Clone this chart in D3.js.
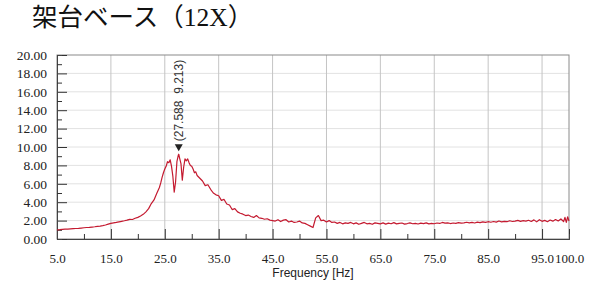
<!DOCTYPE html>
<html>
<head>
<meta charset="utf-8">
<script src="https://cdn.jsdelivr.net/npm/d3@7"></script>
<style>
  body { margin: 0; background: #fff; }
  svg { display: block; }
  .ax text { font-family: "Liberation Serif", "DejaVu Serif", serif; fill: #222; }
</style>
</head>
<body>
<div id="chart"></div>
<script>
var titleText = "架台ベース（12X）";
var axisTitle = "Frequency [Hz]";
var peakLabel = "(27.588  9.213)";
var peak = [27.588, 9.213];

var xTicks = [5, 15, 25, 35, 45, 55, 65, 75, 85, 95, 100];
var xMinor = [10, 20, 30, 40, 50, 60, 70, 80, 90];
var yTicks = [0, 2, 4, 6, 8, 10, 12, 14, 16, 18, 20];
var yMinor = [1, 3, 5, 7, 9, 11, 13, 15, 17, 19];

var freq = [
  5.0, 5.5, 6.0, 6.5, 7.0, 7.5, 8.0, 8.5, 9.0, 9.5,
  10.0, 10.5, 11.0, 11.5, 12.0, 12.5, 13.0, 13.5, 14.0, 14.5,
  15.0, 15.5, 16.0, 16.5, 17.0, 17.5, 18.0, 18.5, 19.0, 19.5,
  20.0, 20.5, 21.0, 21.5, 22.0, 22.5, 23.0, 23.5, 24.0, 24.25,
  24.5, 24.75, 25.0, 25.25, 25.5, 25.75, 26.0, 26.25, 26.5, 26.75,
  27.0, 27.25, 27.5, 27.588, 27.75, 28.0, 28.25, 28.5, 28.75, 29.0,
  29.25, 29.5, 29.75, 30.0, 30.25, 30.5, 30.75, 31.0, 31.5, 32.0,
  32.5, 33.0, 33.5, 34.0, 34.5, 35.0, 35.5, 36.0, 36.5, 37.0,
  37.5, 38.0, 38.5, 39.0, 39.5, 40.0, 40.5, 41.0, 41.5, 42.0,
  42.5, 43.0, 43.5, 44.0, 44.5, 45.0, 45.5, 46.0, 46.5, 47.0,
  47.5, 48.0, 48.5, 49.0, 49.5, 50.0, 50.5, 51.0, 51.5, 52.0,
  52.5, 53.0, 53.5, 54.0, 54.5, 55.0, 55.5, 56.0, 56.5, 57.0,
  57.5, 58.0, 58.5, 59.0, 59.5, 60.0, 60.5, 61.0, 61.5, 62.0,
  62.5, 63.0, 63.5, 64.0, 64.5, 65.0, 65.5, 66.0, 66.5, 67.0,
  67.5, 68.0, 68.5, 69.0, 69.5, 70.0, 70.5, 71.0, 71.5, 72.0,
  72.5, 73.0, 73.5, 74.0, 74.5, 75.0, 75.5, 76.0, 76.5, 77.0,
  77.5, 78.0, 78.5, 79.0, 79.5, 80.0, 80.5, 81.0, 81.5, 82.0,
  82.5, 83.0, 83.5, 84.0, 84.5, 85.0, 85.5, 86.0, 86.5, 87.0,
  87.5, 88.0, 88.5, 89.0, 89.5, 90.0, 90.5, 91.0, 91.5, 92.0,
  92.5, 93.0, 93.5, 94.0, 94.5, 95.0, 95.5, 96.0, 96.5, 97.0,
  97.5, 98.0, 98.5, 99.0, 99.25, 99.5, 99.75, 100.0
];

var amp = [
  1.00, 1.02, 1.05, 1.07, 1.08, 1.10, 1.12, 1.14, 1.16, 1.19,
  1.22, 1.25, 1.27, 1.30, 1.33, 1.37, 1.40, 1.45, 1.52, 1.62,
  1.70, 1.75, 1.80, 1.86, 1.92, 1.98, 2.05, 2.14, 2.12, 2.25,
  2.35, 2.50, 2.68, 2.95, 3.30, 3.85, 4.25, 4.95, 5.60, 6.10,
  6.70, 7.20, 7.60, 7.90, 8.40, 8.30, 8.60, 7.90, 6.80, 5.10,
  6.20, 8.40, 9.10, 9.213, 8.80, 8.20, 6.40, 7.80, 8.70, 8.50,
  8.70, 8.30, 8.00, 7.90, 7.60, 7.20, 7.30, 6.90, 6.60, 6.30,
  5.80, 5.90, 5.40, 5.00, 4.80, 4.70, 4.20, 4.30, 3.80, 3.70,
  3.20, 3.30, 2.95, 2.80, 2.70, 2.55, 2.60, 2.45, 2.35, 2.55,
  2.30, 2.25, 2.15, 2.20, 2.05, 2.00, 1.95, 2.10, 1.90, 2.05,
  2.10, 1.85, 1.95, 1.80, 1.85, 1.95, 1.75, 1.70, 1.55, 1.40,
  1.25, 2.30, 2.55, 2.00, 2.05, 1.85, 2.00, 1.80, 1.85, 1.70,
  1.80, 1.65, 1.75, 1.70, 1.80, 1.65, 1.75, 1.60, 1.70, 1.80,
  1.65, 1.70, 1.60, 1.75, 1.70, 1.65, 1.75, 1.62, 1.72, 1.66,
  1.78, 1.64, 1.70, 1.74, 1.62, 1.68, 1.76, 1.66, 1.70, 1.63,
  1.72, 1.68, 1.75, 1.64, 1.70, 1.66, 1.74, 1.69, 1.80, 1.72,
  1.76, 1.68, 1.74, 1.70, 1.78, 1.72, 1.75, 1.82, 1.76, 1.80,
  1.74, 1.84, 1.78, 1.86, 1.80, 1.88, 1.82, 1.90, 1.84, 1.96,
  1.86, 1.92, 1.88, 1.98, 1.90, 1.95, 2.02, 1.92, 2.00, 1.94,
  2.04, 1.90, 2.08, 1.86, 2.10, 1.92, 2.02, 1.88, 2.06, 1.94,
  2.12, 1.96, 2.18, 1.90, 2.35, 1.80, 2.40, 1.95
];

var W = 601, H = 289;
var margin = {top: 55, right: 32, bottom: 50, left: 57};
var width = W - margin.left - margin.right,
    height = H - margin.top - margin.bottom;

var svg = d3.select("#chart").append("svg")
    .attr("width", W)
    .attr("height", H);

svg.append("text")
    .attr("x", 32)
    .attr("y", 26)
    .attr("font-family", "'Liberation Serif', 'Noto Sans CJK JP', serif")
    .attr("font-size", 25.5)
    .attr("fill", "#111")
    .text(titleText);

var g = svg.append("g")
    .attr("transform", "translate(" + margin.left + "," + margin.top + ")");

var x = d3.scaleLinear().domain([5, 100]).range([0, width]);
var y = d3.scaleLinear().domain([0, 20]).range([height, 0]);

// grid
g.append("g").selectAll("line")
    .data(yTicks.slice(1, -1))
    .enter().append("line")
    .attr("x1", 0).attr("x2", width)
    .attr("y1", function (d) { return y(d); })
    .attr("y2", function (d) { return y(d); })
    .attr("stroke", "#e2e2e2");

g.append("g").selectAll("line")
    .data(xTicks.slice(1, -1))
    .enter().append("line")
    .attr("x1", function (d) { return x(d); })
    .attr("x2", function (d) { return x(d); })
    .attr("y1", 0).attr("y2", height)
    .attr("stroke", "#c4c4c4");

// frame
g.append("rect")
    .attr("width", width)
    .attr("height", height)
    .attr("fill", "none")
    .attr("stroke", "#8a8a8a");

// axes
g.append("g")
    .attr("class", "ax")
    .attr("transform", "translate(0," + height + ")")
    .call(d3.axisBottom(x).tickValues(xTicks).tickSize(-10).tickPadding(15)
        .tickFormat(d3.format(".1f")))
    .attr("font-family", "'Liberation Serif', serif")
    .attr("font-size", 13);

g.append("g")
    .attr("transform", "translate(0," + height + ")")
    .call(d3.axisBottom(x).tickValues(xMinor).tickSize(-5).tickFormat(""));

g.append("g")
    .attr("class", "ax")
    .call(d3.axisLeft(y).tickValues(yTicks).tickSize(-10).tickPadding(10)
        .tickFormat(d3.format(".2f")))
    .attr("font-family", "'Liberation Serif', serif")
    .attr("font-size", 13.5);

g.append("g")
    .call(d3.axisLeft(y).tickValues(yMinor).tickSize(-5).tickFormat(""));

g.selectAll(".domain").attr("stroke", "#444");
g.selectAll(".tick line").attr("stroke", "#333");

// axis title
svg.append("text")
    .attr("x", margin.left + x(52.5))
    .attr("y", 277)
    .attr("text-anchor", "middle")
    .attr("font-family", "'Liberation Sans', Arial, sans-serif")
    .attr("font-size", 12)
    .attr("fill", "#222")
    .text(axisTitle);

// spectrum line
var line = d3.line()
    .x(function (d, i) { return x(freq[i]); })
    .y(function (d) { return y(d); });

g.append("path")
    .datum(amp)
    .attr("d", line)
    .attr("fill", "none")
    .attr("stroke", "#c41a30")
    .attr("stroke-width", 1.2)
    .attr("stroke-linejoin", "round");

// peak marker
var px = x(peak[0]), py = y(peak[1]);
g.append("path")
    .attr("d", "M" + (px - 4) + "," + (py - 10) + "L" + (px + 4) + "," + (py - 10) + "L" + px + "," + (py - 3) + "Z")
    .attr("fill", "#222");

g.append("text")
    .attr("transform", "translate(" + (px + 4) + "," + (py - 13) + ") rotate(-90)")
    .attr("xml:space", "preserve")
    .style("white-space", "pre")
    .attr("font-family", "'Liberation Sans', Arial, sans-serif")
    .attr("font-size", 12)
    .attr("fill", "#333")
    .text(peakLabel);
</script>
</body>
</html>
